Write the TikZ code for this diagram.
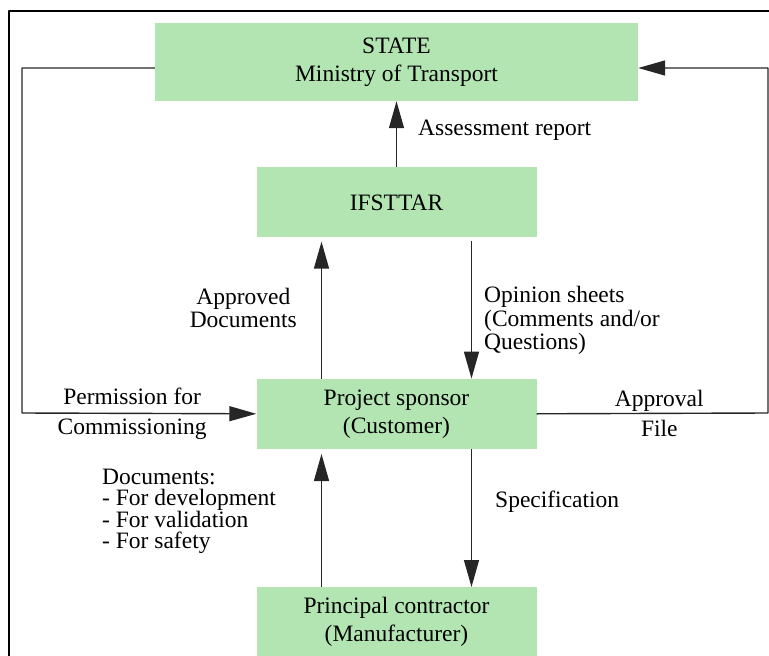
\documentclass[tikz,border=0pt]{standalone}
\usepackage{fontspec}
\setmainfont{Liberation Serif}
\usetikzlibrary{arrows.meta,positioning}
\definecolor{boxgreen}{RGB}{179,229,179}
\begin{document}
\begin{tikzpicture}[x=1pt,y=-1pt,line join=round,>={Triangle[length=27pt,width=15pt]},
		font=\fontsize{23.5}{28}\selectfont,
		block/.style={fill=boxgreen,minimum width=280pt,minimum height=70pt,inner sep=0pt,align=center},
		flow/.style={->,draw=black!85,line width=1.4pt},
		lbl/.style={inner sep=0pt,align=left,font=\fontsize{23.5}{23.5}\selectfont}]
	\useasboundingbox (0,0) rectangle (769,656);
	\draw[line width=2pt] (9,662)--(9,11)--(775,11);
	\node[block,minimum width=483pt,minimum height=78pt] (state) at (396.5,62) {STATE\\Ministry of Transport};
	\node[block,below=66pt of state] (ifsttar) {IFSTTAR};
	\node[block,below=141pt of ifsttar] (sponsor) {Project sponsor\\(Customer)};
	\node[block,below=138pt of sponsor] (principal) {Principal contractor\\(Manufacturer)};
	\coordinate (sw) at (22,413);
	\coordinate (se) at (768,413);
	\draw[flow] (ifsttar.north) -- node[lbl,pos=0.56,right=21pt] {Assessment report} (state.south);
	\draw[flow,shorten >=4pt] ([xshift=-75pt]sponsor.north) -- node[lbl,left=24pt,align=center] {Approved\\Documents} ([xshift=-75pt]ifsttar.south);
	\draw[flow,shorten <=3pt] ([xshift=75pt]ifsttar.south) -- node[lbl,pos=0.59,right=12pt] {Opinion sheets\\(Comments and/or\\Questions)} ([xshift=75pt]sponsor.north);
	\draw[flow] ([yshift=-6pt]state.west) -| (sw) -- node[lbl,pos=0.47,align=center,font=\fontsize{23.5}{30}\selectfont] {Permission for\\Commissioning} (sponsor.west);
	\draw[flow] (sponsor.east) -- node[lbl,pos=0.53,align=center,font=\fontsize{23.5}{30}\selectfont] {Approval\\File} (se) |- ([yshift=-6pt]state.east);
	\draw[flow,shorten >=5pt] ([xshift=-75pt]principal.north) -- node[lbl,pos=0.55,left=45pt,font=\fontsize{23.5}{21.5}\selectfont] {Documents:\\- For development\\- For validation\\- For safety} ([xshift=-75pt]sponsor.south);
	\draw[flow] ([xshift=75pt]sponsor.south) -- node[lbl,pos=0.38,right=23pt] {Specification} ([xshift=75pt]principal.north);
\end{tikzpicture}
\end{document}
